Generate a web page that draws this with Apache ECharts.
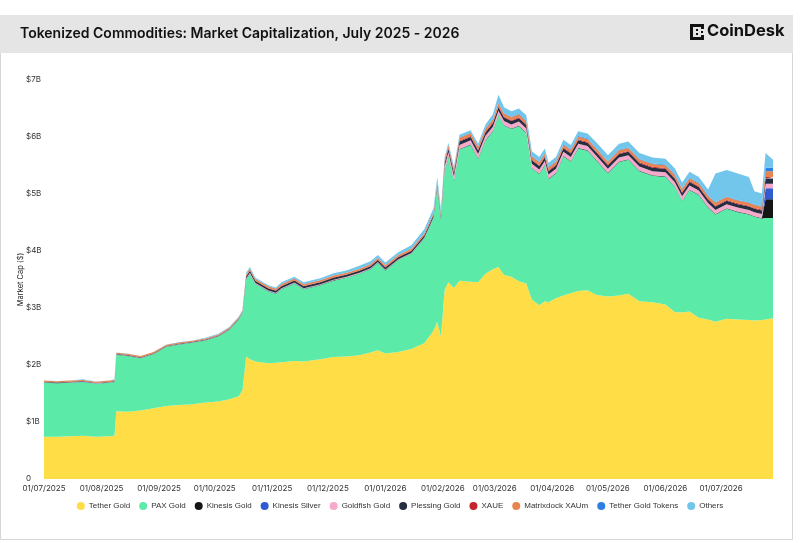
<!DOCTYPE html>
<html>
<head>
<meta charset="utf-8">
<script src="https://cdn.jsdelivr.net/npm/echarts@6/dist/echarts.min.js"></script>
<style>html,body{margin:0;padding:0;background:#fff}#c{width:800px;height:543px}</style>
</head>
<body>
<div id="c"></div>
<script>
// Dates (snapshots)
const dates = [
'2025-07-01','2025-07-08','2025-07-15','2025-07-22','2025-07-29','2025-08-05','2025-08-08','2025-08-09','2025-08-15','2025-08-22',
'2025-08-29','2025-09-05','2025-09-12','2025-09-19','2025-09-26','2025-10-03','2025-10-09','2025-10-14','2025-10-16','2025-10-18',
'2025-10-20','2025-10-23','2025-10-30','2025-11-03','2025-11-06','2025-11-13','2025-11-18','2025-11-27','2025-12-04','2025-12-11',
'2025-12-18','2025-12-24','2025-12-28','2026-01-01','2026-01-08','2026-01-15','2026-01-22','2026-01-27','2026-01-29','2026-01-31',
'2026-02-02','2026-02-04','2026-02-07','2026-02-10','2026-02-16','2026-02-20','2026-02-24','2026-02-28','2026-03-03','2026-03-06',
'2026-03-10','2026-03-14','2026-03-18','2026-03-21','2026-03-25','2026-03-28','2026-03-30','2026-04-03','2026-04-07','2026-04-11',
'2026-04-15','2026-04-20','2026-04-25','2026-05-01','2026-05-07','2026-05-12','2026-05-18','2026-05-25','2026-06-01','2026-06-06',
'2026-06-10','2026-06-14','2026-06-19','2026-06-24','2026-06-28','2026-07-04','2026-07-10','2026-07-16','2026-07-19','2026-07-23',
'2026-07-25','2026-07-29'
];
// Values in $ billions
const tetherGold = [
.74,.74,.75,.76,.74,.75,.76,1.19,1.18,1.20,
1.24,1.28,1.30,1.31,1.34,1.36,1.40,1.45,1.56,2.15,
2.10,2.06,2.03,2.04,2.05,2.07,2.06,2.10,2.14,2.15,
2.17,2.22,2.26,2.20,2.23,2.28,2.38,2.60,2.76,2.50,
3.32,3.45,3.35,3.48,3.46,3.45,3.60,3.68,3.72,3.58,
3.55,3.47,3.43,3.15,3.05,3.12,3.10,3.17,3.22,3.26,
3.30,3.31,3.23,3.20,3.22,3.25,3.12,3.10,3.06,2.93,
2.92,2.94,2.83,2.80,2.76,2.81,2.80,2.79,2.78,2.79,
2.80,2.82];
const paxGold = [
.95,.94,.94,.94,.93,.94,.94,.99,.98,.92,
.95,1.04,1.06,1.08,1.09,1.14,1.22,1.35,1.36,1.35,
1.50,1.36,1.26,1.21,1.28,1.36,1.27,1.30,1.34,1.38,
1.43,1.46,1.53,1.46,1.61,1.67,1.84,1.98,2.36,2.05,
2.08,2.20,1.88,2.30,2.40,2.17,2.34,2.42,2.66,2.62,
2.59,2.72,2.64,2.30,2.30,2.38,2.16,2.19,2.44,2.31,
2.50,2.45,2.35,2.16,2.34,2.35,2.28,2.22,2.24,2.20,
1.96,2.13,2.15,1.96,1.88,1.93,1.88,1.85,1.82,1.78,
1.78,1.76];
const kinesisGold = [
.003,.003,.003,.003,.003,.003,.003,.003,.003,.003,.003,.003,.003,.003,.003,.003,.003,.003,.003,
.005,.005,.005,.005,.005,.005,.005,.005,.005,.005,.005,.005,.005,.005,.005,.005,.005,.005,.005,.005,.005,
.008,.008,.008,.008,.008,.008,.008,.008,.008,.008,.008,.008,.008,.008,.008,.008,.008,.008,.008,.008,
.008,.008,.008,.008,.008,.008,.008,.008,.008,.008,.008,.008,.008,.008,.008,.008,.008,.008,.008,.008,
.33,.33];
const kinesisSilver = [
.001,.001,.001,.001,.001,.001,.001,.001,.001,.001,.001,.001,.001,.001,.001,.001,.001,.001,.001,
.002,.002,.002,.002,.002,.002,.002,.002,.002,.002,.002,.002,.002,.002,.002,.002,.002,.002,.002,.002,.002,
.003,.003,.003,.003,.003,.003,.003,.003,.003,.003,.003,.003,.003,.003,.003,.003,.003,.003,.003,.003,
.003,.003,.003,.003,.003,.003,.003,.003,.003,.003,.003,.003,.003,.003,.003,.003,.003,.003,.003,.003,
.19,.19];
const goldfishGold = [
.004,.004,.004,.004,.004,.004,.004,.004,.004,.004,.004,.004,.004,.004,.004,.004,.004,.004,.004,
.01,.01,.01,.01,.01,.01,.01,.01,.01,.01,.01,.01,.01,.01,.01,.01,.01,.01,.01,.01,.01,
.07,.07,.07,.07,.07,.07,.07,.07,.07,.07,.07,.07,.07,.07,.07,.07,.07,.07,.07,.07,
.07,.07,.07,.07,.07,.07,.07,.07,.07,.07,.07,.07,.07,.07,.07,.07,.07,.07,.07,.07,
.08,.08];
const plessingGold = [
.008,.008,.008,.008,.008,.008,.008,.008,.008,.008,.008,.008,.008,.008,.008,.008,.008,.008,.008,
.035,.035,.035,.035,.035,.035,.035,.035,.035,.035,.035,.035,.035,.035,.035,.035,.035,.035,.035,.035,.035,
.06,.06,.06,.06,.06,.06,.06,.06,.06,.06,.06,.06,.06,.06,.06,.06,.06,.06,.06,.06,
.06,.06,.06,.06,.06,.06,.06,.06,.06,.06,.06,.06,.06,.06,.06,.06,.06,.06,.06,.06,
.09,.09];
const xaue = [
.002,.002,.002,.002,.002,.002,.002,.002,.002,.002,.002,.002,.002,.002,.002,.002,.002,.002,.002,
.006,.006,.006,.006,.006,.006,.006,.006,.006,.006,.006,.006,.006,.006,.006,.006,.006,.006,.006,.006,.006,
.015,.015,.015,.015,.015,.015,.015,.015,.015,.015,.015,.015,.015,.015,.015,.015,.015,.015,.015,.015,
.015,.015,.015,.015,.015,.015,.015,.015,.015,.015,.015,.015,.015,.015,.015,.015,.015,.015,.015,.015,
.03,.03];
const matrixdock = [
.018,.018,.018,.018,.018,.018,.018,.018,.018,.018,.018,.018,.018,.018,.018,.018,.018,.018,.018,
.03,.03,.03,.03,.03,.03,.03,.03,.03,.03,.03,.03,.03,.03,.03,.03,.03,.03,.03,.03,.03,
.05,.05,.05,.05,.05,.05,.05,.05,.05,.05,.05,.05,.05,.05,.05,.05,.05,.05,.05,.05,
.05,.05,.05,.05,.05,.05,.05,.05,.05,.05,.05,.05,.05,.05,.05,.05,.05,.05,.05,.05,
.10,.10];
const tetherGoldTokens = [
.001,.001,.001,.001,.001,.001,.001,.001,.001,.001,.001,.001,.001,.001,.001,.001,.001,.001,.001,
.002,.002,.002,.002,.002,.002,.002,.002,.002,.002,.002,.002,.002,.002,.002,.002,.002,.002,.002,.002,.002,
.01,.01,.01,.01,.01,.01,.01,.01,.01,.01,.01,.01,.01,.01,.01,.01,.01,.01,.01,.01,
.01,.01,.01,.01,.01,.01,.01,.01,.01,.01,.01,.01,.01,.01,.01,.01,.01,.01,.01,.01,
.06,.06];
const others = [
.003,.003,.003,.013,.003,.003,.013,.003,.003,.003,.003,.003,.003,.003,.013,.013,.013,.013,.013,
.03,.03,.02,.02,.02,.03,.03,.03,.03,.04,.04,.05,.05,.05,.05,.05,.06,.07,.08,.09,.08,
.034,.034,.034,.044,.044,.044,.064,.084,.144,.104,.094,.094,.094,.084,.084,.084,.074,.074,.074,.074,
.084,.084,.104,.104,.104,.104,.104,.104,.104,.104,.104,.104,.104,.104,.504,.464,.464,.444,.234,.224,
.26,.14];

const seriesNames = ['Tether Gold','PAX Gold','Kinesis Gold','Kinesis Silver','Goldfish Gold','Plessing Gold','XAUE','Matrixdock XAUm','Tether Gold Tokens','Others'];
const seriesData = [tetherGold,paxGold,kinesisGold,kinesisSilver,goldfishGold,plessingGold,xaue,matrixdock,tetherGoldTokens,others];
const colors = ['#FFDD47','#5CEAA9','#151515','#2F5BD3','#F6A9CA','#262D40','#C4262E','#E8844F','#2E7FE0','#72C6EC'];
const yTicks = ['0','$1B','$2B','$3B','$4B','$5B','$6B','$7B'];

const chart = echarts.init(document.getElementById('c'), null, {renderer:'canvas'});
const pad = n => (n<10?'0':'')+n;
const series = seriesNames.map((name,i)=>({
  name, type:'line', stack:'total', showSymbol:false, symbol:'none',
  lineStyle:{width:0}, areaStyle:{color:colors[i], opacity:1}, itemStyle:{color:colors[i]},
  emphasis:{disabled:true},
  data: dates.map((d,j)=>[d, seriesData[i][j]*1e9])
}));
chart.setOption({
  animation:false,
  backgroundColor:'#ffffff',
  color:colors,
  graphic:[
    {type:'rect', shape:{x:0.5,y:15.5,width:792,height:524}, style:{fill:'#fff',stroke:'#d6d6d6',lineWidth:1}, z:-10},
    {type:'rect', shape:{x:0,y:15,width:793,height:38}, style:{fill:'#e5e5e5'}, z:-9},
    {type:'text', left:20, top:27, style:{text:'Tokenized Commodities: Market Capitalization, July 2025 - 2026', font:'600 14px Inter, sans-serif', fill:'#111'}},
    {type:'group', left:690, top:24, children:[
      {type:'rect', shape:{x:0,y:0,width:3,height:16}, style:{fill:'#111'}},
      {type:'rect', shape:{x:3,y:0,width:11,height:3}, style:{fill:'#111'}},
      {type:'rect', shape:{x:3,y:13,width:11,height:3}, style:{fill:'#111'}},
      {type:'rect', shape:{x:11,y:3,width:3,height:2}, style:{fill:'#111'}},
      {type:'rect', shape:{x:11,y:11,width:3,height:2}, style:{fill:'#111'}},
      {type:'rect', shape:{x:6,y:5,width:2,height:2}, style:{fill:'#111'}},
      {type:'rect', shape:{x:6,y:9,width:2,height:2}, style:{fill:'#111'}},
      {type:'rect', shape:{x:11,y:7,width:2,height:2}, style:{fill:'#111'}}
    ]},
    {type:'text', left:707, top:23, style:{text:'CoinDesk', font:'bold 16.5px Inter, sans-serif', fill:'#111'}}
  ],
  grid:{left:44, right:27, top:80, bottom:64},
  legend:{
    data:seriesNames, bottom:28, left:'center', icon:'circle', itemWidth:8, itemHeight:8, itemGap:9,
    textStyle:{fontSize:8, color:'#333', fontFamily:'"Liberation Sans", Arial, sans-serif', padding:[0,0,0,-1]}
  },
  xAxis:{
    type:'time', min:'2025-07-01', max:'2026-07-29', splitNumber:13,
    minInterval:28*864e5, maxInterval:31*864e5,
    axisLine:{show:false}, axisTick:{show:false}, splitLine:{show:false},
    axisLabel:{fontSize:8, color:'#333', fontFamily:'Inter, sans-serif', margin:6, hideOverlap:false,
      formatter:v=>{const d=new Date(v); return pad(d.getDate())+'/'+pad(d.getMonth()+1)+'/'+d.getFullYear();}}
  },
  yAxis:{
    type:'value', min:0, max:7e9, interval:1e9,
    name:'Market Cap ($)', nameLocation:'middle', nameGap:19, nameRotate:90, nameMoveOverlap:false,
    nameTextStyle:{fontSize:7.5, color:'#222', fontFamily:'Inter, sans-serif'},
    axisLine:{show:false}, axisTick:{show:false}, splitLine:{show:false},
    axisLabel:{fontSize:8, color:'#333', fontFamily:'Inter, sans-serif', align:'left', margin:18,
      formatter:(v)=>yTicks[Math.round(v/1e9)]}
  },
  series
});
</script>
</body>
</html>
